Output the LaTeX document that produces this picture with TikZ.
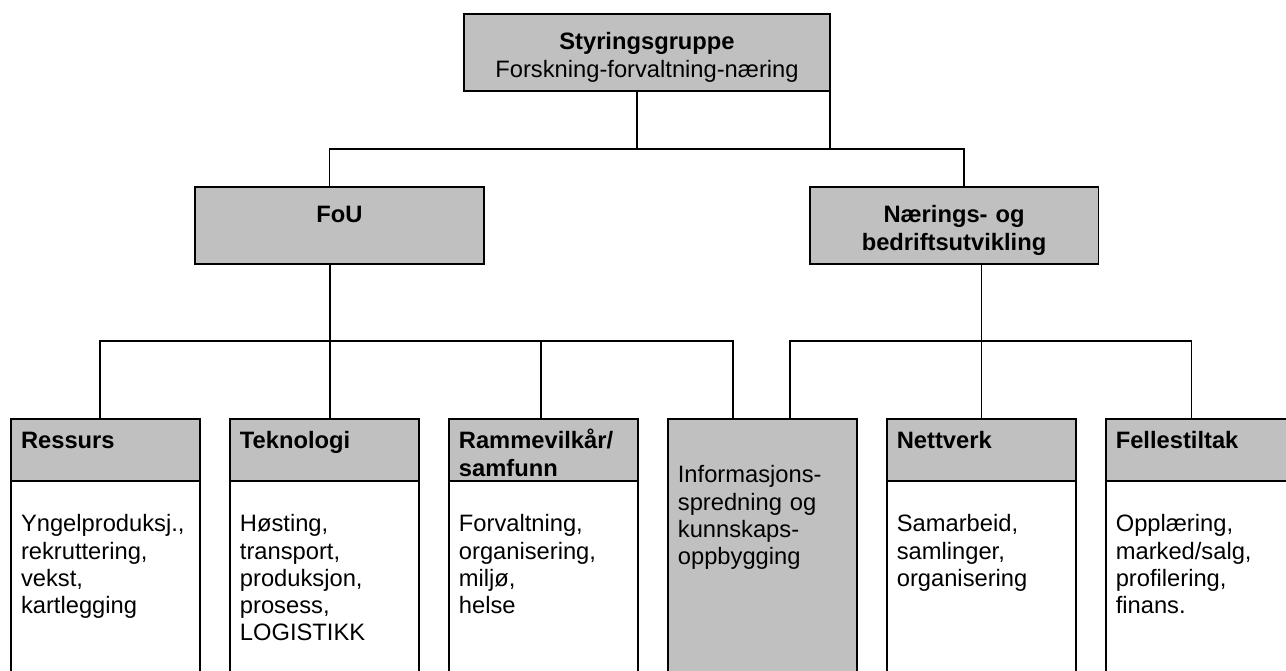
\documentclass[tikz,border=0pt]{standalone}
\usepackage{fontspec}
\setmainfont{Liberation Sans}
\usepackage{tikz}
\usetikzlibrary{
	positioning,
	calc
}
\definecolor{boxgray}{HTML}{C0C0C0}
\newcommand{\orgsize}{\fontsize{13.5}{15.4}\selectfont}

\begin{document}
\begin{tikzpicture}[
			x=0.02cm, y=-0.02cm,
			node distance=0.6cm,
			every node/.style={outer sep=0pt},
			topbox/.style={
				draw,
				line width=1.1pt,
				fill=boxgray,
				text width=6.92cm,
				inner xsep=0.2cm,
				inner ysep=0.1cm,
				text height=0.62cm,
				text depth=0.72cm,
				align=center,
				font=\orgsize
			},
			midbox/.style={
				draw,
				line width=1.1pt,
				fill=boxgray,
				text width=5.38cm,
				inner xsep=0.2cm,
				inner ysep=0.1cm,
				text height=0.62cm,
				text depth=0.72cm,
				align=center,
				font=\orgsize\bfseries
			},
			headbox/.style={
				draw,
				line width=1.1pt,
				fill=boxgray,
				text width=3.38cm,
				inner xsep=0.2cm,
				inner ysep=0.1cm,
				text height=0.5cm,
				text depth=0.54cm,
				align=left,
				font=\orgsize\bfseries
			},
			bodybox/.style={
				draw,
				line width=1.1pt,
				fill=white,
				text width=3.38cm,
				inner xsep=0.2cm,
				inner ysep=0.1cm,
				text height=0.92cm,
				text depth=3.26cm,
				align=left,
				font=\orgsize
			},
			infobox/.style={
				bodybox,
				fill=boxgray,
				text height=1.18cm,
				text depth=4.24cm
			},
			link/.style={line width=0.8pt}
			]
			
			\clip (0,0) rectangle (1286,671);
			
			\node[topbox] (top) at (647,52.5)
			{\textbf{Styringsgruppe}\\Forskning-forvaltning-næring};
			
			\node[midbox] (fou) at (339.5,225.5) {FoU};
			\node[midbox] (naer) at (954,225.5)
			{Nærings- og\\bedriftsutvikling};
			
			% bottom row
			\node[headbox] (hres) at (105.5,450) {Ressurs};
			\node[headbox,right=of hres] (htek) {Teknologi};
			\node[headbox,right=of htek] (hram) {Rammevilkår/\\samfunn};
			\node[infobox,right=of hram.north east,anchor=north west] (info)
			{Informasjons-\\spredning og\\kunnskaps-\\oppbygging};
			\node[headbox,right=of info.north east,anchor=north west] (hnet) {Nettverk};
			\node[headbox,right=of hnet] (hfel) {Fellestiltak};
			
			\node[bodybox,below=0pt of hres] (bres)
			{Yngelproduksj.,\\rekruttering,\\vekst,\\kartlegging};
			\node[bodybox,below=0pt of htek] (btek)
			{Høsting,\\transport,\\produksjon,\\prosess,\\LOGISTIKK};
			\node[bodybox,below=0pt of hram] (bram)
			{Forvaltning,\\organisering,\\miljø,\\helse};
			\node[bodybox,below=0pt of hnet] (bnet)
			{Samarbeid,\\samlinger,\\organisering};
			\node[bodybox,below=0pt of hfel] (bfel)
			{Opplæring,\\marked/salg,\\profilering,\\finans.};
			
			\coordinate (bustop) at (0,149);
			\coordinate (busmid) at (0,341);
			
			% upper level
			\draw[link] ([xshift=-2mm]top.south) -- ([xshift=-2mm]top.south |- bustop);
			\draw[link] (top.south east) -- (top.south east |- bustop);
			\draw[link] ([xshift=-2mm]fou.north) -- ([xshift=-2mm]fou.north |- bustop)
			-| ([xshift=2mm]naer.north);
			
			% FoU
			\draw[link] ([xshift=1.1mm]htek.north) -- ([xshift=1.1mm]htek.north |- fou.south);
			\draw[link] ([xshift=-1.1mm]hres.north) |- ([xshift=-5.9mm]info.north |- busmid)
			-- ([xshift=-5.9mm]info.north);
			\draw[link] ([xshift=-0.5mm]hram.north) -- ([xshift=-0.5mm]hram.north |- busmid);
			
			% Naerings- og bedriftsutvikling
			\draw[link] (hnet.north) -- (hnet.north |- naer.south);
			\draw[link] ([xshift=5.5mm]info.north) |- ([xshift=-1.7mm]hfel.north |- busmid)
			-- ([xshift=-1.7mm]hfel.north);
			
		\end{tikzpicture}
\end{document}
